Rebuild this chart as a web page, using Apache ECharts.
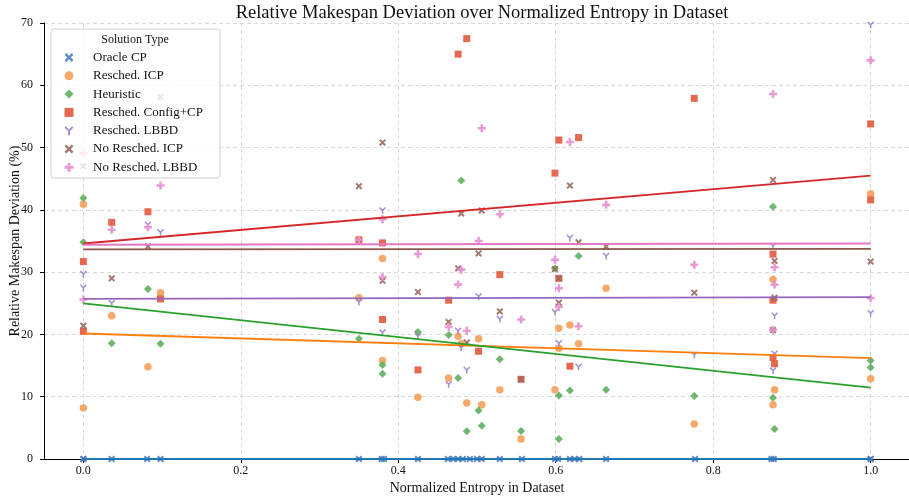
<!DOCTYPE html>
<html>
<head>
<meta charset="utf-8">
<script src="https://cdn.jsdelivr.net/npm/echarts@6/dist/echarts.min.js"></script>
<style>html,body{margin:0;padding:0;background:#fff;}#c{width:909px;height:501px;}</style>
</head>
<body>
<div id="c"></div>
<script>
// ---- Data ----
const seriesNames = ['Oracle CP','Resched. ICP','Heuristic','Resched. Config+CP','Resched. LBBD','No Resched. ICP','No Resched. LBBD'];
const xTickValues = [0, 0.2, 0.4, 0.6, 0.8, 1.0];
const yTickValues = [0, 10, 20, 30, 40, 50, 60, 70];

const oracleCP = [[0,0],[0,0],[0.036,0],[0.081,0],[0.098,0],[0.350,0],[0.379,0],[0.382,0],[0.425,0],[0.463,0],[0.470,0],[0.476,0],[0.482,0],[0.491,0],[0.500,0],[0.506,0],[0.529,0],[0.557,0],[0.599,0],[0.603,0],[0.618,0],[0.624,0],[0.630,0],[0.664,0],[0.777,0],[0.874,0],[0.877,0],[1.0,0],[1.0,0]];
const reschedICP = [[0,40.9],[0,8.2],[0.036,23.0],[0.082,14.8],[0.098,26.7],[0.350,25.9],[0.380,32.2],[0.380,15.8],[0.425,9.9],[0.464,13.0],[0.476,19.7],[0.480,18.5],[0.487,9.0],[0.502,19.3],[0.506,8.7],[0.529,11.1],[0.556,3.2],[0.599,11.1],[0.604,21.0],[0.604,17.8],[0.618,21.5],[0.629,18.5],[0.664,27.4],[0.776,5.6],[0.876,28.8],[0.876,8.7],[0.878,11.1],[1.0,42.6],[1.0,12.9]];
const heuristic = [[0,41.9],[0,34.8],[0.036,18.6],[0.082,27.3],[0.098,18.5],[0.350,19.3],[0.380,15.1],[0.380,13.7],[0.425,20.4],[0.464,19.9],[0.476,13.0],[0.480,44.7],[0.487,4.45],[0.502,7.8],[0.506,5.35],[0.529,16.0],[0.556,4.5],[0.599,30.6],[0.604,10.2],[0.604,3.2],[0.618,11.0],[0.629,32.6],[0.664,11.1],[0.776,10.1],[0.876,40.5],[0.876,9.85],[0.878,4.8],[1.0,15.8],[1.0,14.7]];
const reschedConfigCP = [[0,31.7],[0,20.5],[0.036,38.0],[0.082,39.7],[0.098,25.7],[0.350,35.2],[0.380,34.7],[0.380,22.4],[0.425,14.3],[0.464,25.5],[0.476,65.0],[0.487,67.5],[0.502,17.3],[0.529,29.6],[0.556,12.8],[0.599,45.9],[0.604,51.2],[0.604,29.0],[0.618,14.9],[0.629,51.6],[0.776,57.9],[0.876,32.9],[0.876,25.5],[0.876,16.3],[0.878,15.3],[1.0,53.8],[1.0,41.6]];
const reschedLBBD = [[0,29.7],[0,27.5],[0.036,25.0],[0.082,37.6],[0.098,36.4],[0.350,25.2],[0.380,39.9],[0.380,20.3],[0.425,19.7],[0.464,12.0],[0.476,20.6],[0.480,17.9],[0.487,14.3],[0.502,26.1],[0.529,22.5],[0.599,23.6],[0.604,18.6],[0.618,35.5],[0.629,14.8],[0.664,32.6],[0.776,16.7],[0.876,34.2],[0.878,23.0],[0.878,16.9],[0.876,14.2],[1.0,69.7],[1.0,23.4]];
const noReschedICP = [[0,47.0],[0,21.4],[0.036,29.0],[0.082,34.1],[0.098,58.1],[0.350,43.8],[0.380,50.8],[0.380,28.6],[0.425,26.8],[0.464,22.0],[0.476,30.6],[0.480,39.4],[0.487,18.7],[0.502,33.0],[0.506,39.9],[0.529,23.7],[0.556,12.8],[0.599,30.5],[0.604,29.0],[0.604,25.1],[0.618,43.9],[0.629,34.8],[0.664,34.1],[0.776,26.7],[0.876,44.8],[0.876,20.7],[0.878,31.8],[0.878,25.9],[1.0,31.7]];
const noReschedLBBD = [[0,49.1],[0,25.6],[0.036,36.8],[0.082,37.2],[0.098,43.9],[0.350,35.2],[0.380,38.5],[0.380,29.2],[0.425,32.9],[0.464,21.2],[0.476,28.0],[0.480,30.4],[0.487,20.6],[0.502,35.0],[0.506,53.1],[0.529,39.3],[0.556,22.4],[0.599,32.0],[0.604,27.4],[0.604,24.4],[0.618,50.9],[0.629,21.3],[0.664,40.8],[0.776,31.2],[0.876,58.6],[0.876,20.7],[0.878,30.8],[0.878,28.0],[1.0,64.0],[1.0,25.8]];

// Trend line end values (at x = 0 and x = 1)
const trendX = [0, 1];
const trendStart = [0, 20.15, 24.97, 34.6, 25.7, 33.65, 34.4];
const trendEnd   = [0, 16.2, 11.46, 45.5, 26.0, 33.75, 34.6];

// ---- Styles ----
const markerColors = ['#4f7fc2','#f5a05a','#5fae5f','#e2583e','#9b7fc9','#9a6a5e','#e68fcf'];
const lineColors = ['#1f77b4','#ff7f0e','#2ca02c','#d62728','#9467bd','#8c564b','#e377c2'];
const SYM_X = 'path://M0,2 L2,0 L5,3 L8,0 L10,2 L7,5 L10,8 L8,10 L5,7 L2,10 L0,8 L3,5 Z';
const SYM_PLUS = 'path://M3.4,0 H6.6 V3.4 H10 V6.6 H6.6 V10 H3.4 V6.6 H0 V3.4 H3.4 Z';
const SYM_Y = 'path://M0,1.6 L1.6,0 L5,3.6 L8.4,0 L10,1.6 L6.1,5.4 L6.1,10 L3.9,10 L3.9,5.4 Z';
const symbols = [SYM_X,'circle','diamond','rect',SYM_Y,SYM_X,SYM_PLUS];
const symbolSizes = [7,7.5,8,7,7,7,8];
const seriesData = [oracleCP, reschedICP, heuristic, reschedConfigCP, reschedLBBD, noReschedICP, noReschedLBBD];

const FONT = '"Liberation Serif","DejaVu Serif",serif';

const series = [];
seriesNames.forEach((n,i)=>{
  series.push({
    name: n, type: 'scatter', data: seriesData[i],
    symbol: symbols[i], symbolSize: symbolSizes[i],
    itemStyle: {color: markerColors[i], opacity: 0.9},
    z: 2, silent: true, clip: false
  });
});
seriesNames.forEach((n,i)=>{
  series.push({
    name: 'trend ' + n, type: 'line',
    data: trendX.map((x,k)=>[x, k===0 ? trendStart[i] : trendEnd[i]]),
    symbol: 'none', lineStyle: {color: lineColors[i], width: 1.8},
    z: 3, silent: true
  });
});

const chart = echarts.init(document.getElementById('c'), null, {renderer:'canvas'});
chart.setOption({
  animation: false,
  backgroundColor: '#fff',
  title: {
    text: 'Relative Makespan Deviation over Normalized Entropy in Dataset',
    left: 477, top: -1, textAlign: 'center',
    textStyle: {fontFamily: FONT, fontSize: 18.5, fontWeight: 'normal', color: '#111'}
  },
  grid: {left: 44, top: 23, width: 866, height: 436, containLabel: false, outerBoundsMode: 'none'},
  xAxis: {
    type: 'value', min: -0.05, max: 1.05,
    name: 'Normalized Entropy in Dataset', nameLocation: 'middle', nameGap: 22,
    nameMoveOverlap: false,
    nameTextStyle: {fontFamily: FONT, fontSize: 14, color: '#111'},
    axisLine: {onZero: false, lineStyle: {color: '#000', width: 1}},
    axisTick: {show: true, length: 4, lineStyle: {color: '#000'}, customValues: xTickValues},
    axisLabel: {fontFamily: FONT, fontSize: 12, color: '#111', margin: 6,
      customValues: xTickValues, formatter: v => v.toFixed(1)},
    splitLine: {show: true, lineStyle: {color: '#cfcfcf', type: [4,3], width: 0.8}}
  },
  yAxis: {
    type: 'value', min: yTickValues[0], max: yTickValues[yTickValues.length-1], interval: 10,
    name: 'Relative Makespan Deviation (%)', nameLocation: 'middle', nameGap: 22,
    nameRotate: 90, nameMoveOverlap: false,
    nameTextStyle: {fontFamily: FONT, fontSize: 14, color: '#111'},
    axisLine: {show: true, onZero: false, lineStyle: {color: '#000', width: 1}},
    axisTick: {show: true, length: 4, lineStyle: {color: '#000'}},
    axisLabel: {fontFamily: FONT, fontSize: 12, color: '#111', margin: 11},
    splitLine: {show: true, lineStyle: {color: '#cfcfcf', type: [4,3], width: 0.8}}
  },
  legend: {
    data: seriesNames, orient: 'vertical', left: 59.5, top: 46,
    itemWidth: 9, itemHeight: 9, itemGap: 5.3,
    textStyle: {fontFamily: FONT, fontSize: 13, color: '#111', padding: [0,0,0,14.5]},
    z: 101, selectedMode: false
  },
  graphic: [
    {type: 'rect', z: 100, shape: {x: 51, y: 29, width: 169, height: 149, r: 3},
     style: {fill: 'rgba(255,255,255,0.8)', stroke: '#d0d0d0', lineWidth: 1}},
    {type: 'text', z: 101, x: 135, y: 40,
     style: {text: 'Solution Type', fontFamily: FONT, fontSize: 12, fill: '#111', align: 'center', verticalAlign: 'middle'}}
  ],
  series: series
});
</script>
</body>
</html>
